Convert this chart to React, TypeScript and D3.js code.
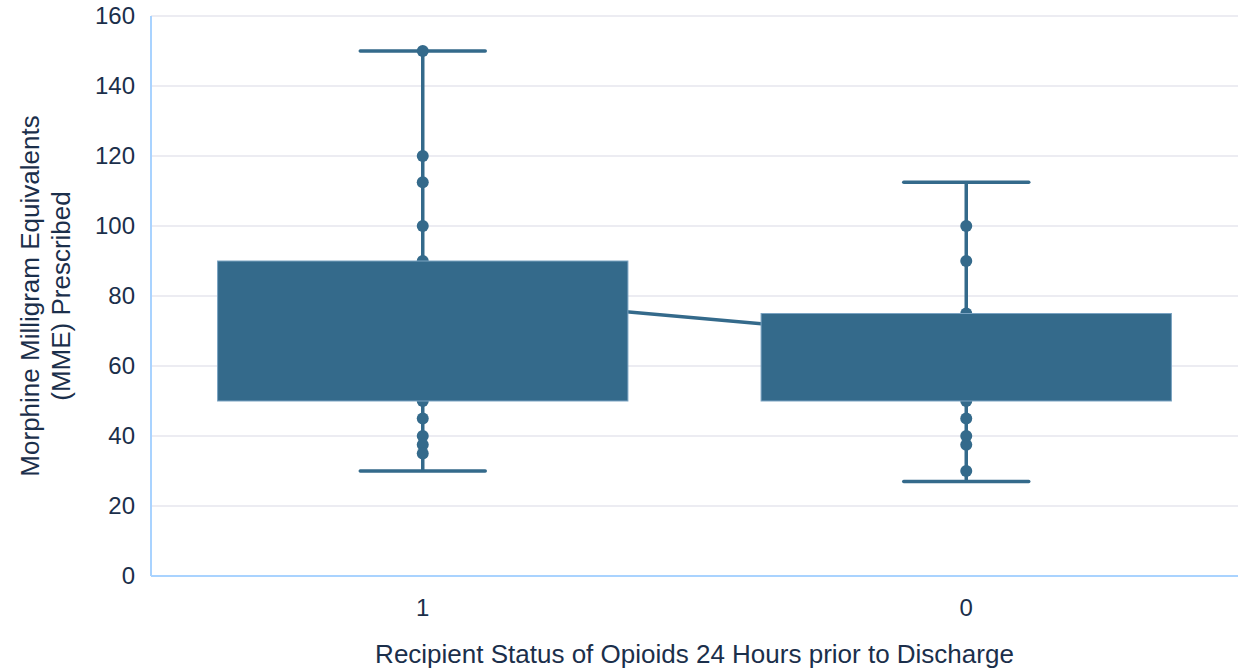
import React from "react";
import * as d3 from "d3";

const categories = ["1", "0"];
const q1 = [50, 50];
const q3 = [90, 75];
const whiskerLow = [30, 27];
const whiskerHigh = [150, 112.5];
const means = [80.7, 66.8];
const points1 = [150, 120, 112.5, 100, 90, 50, 45, 40, 37.5, 35];
const points0 = [100, 90, 75, 50, 45, 40, 37.5, 30];
const pointSets = [points1, points0];
const yTicks = [0, 20, 40, 60, 80, 100, 120, 140, 160];

const W = 1248;
const H = 671;
const left = 151;
const right = 1238;
const top = 16;
const bottom = 576;
const color = "#346a8b";
const textColor = "#1b2f4b";

export default function App() {
  const x = d3.scaleBand<string>().domain(categories).range([left, right]).padding(0);
  const y = d3.scaleLinear().domain([0, 160]).range([bottom, top]);
  const bw = x.bandwidth();
  const boxW = bw * 0.755;
  const capW = bw * 0.23;
  const cx = (c: string) => (x(c) as number) + bw / 2;
  const meanLine = d3
    .line<number>()
    .x((_, i) => cx(categories[i]))
    .y((d) => y(d));

  return (
    <svg
      width={W}
      height={H}
      style={{ position: "absolute", left: 0, top: 0, fontFamily: "Liberation Sans, Arial, sans-serif" }}
    >
      <rect width={W} height={H} fill="#fff" />
      {yTicks.map((t) => (
        <g key={t}>
          {t > 0 && (
            <line x1={left} x2={right} y1={y(t)} y2={y(t)} stroke="#e6e6ee" strokeWidth={1.5} />
          )}
          <text x={135} y={y(t)} dy="0.35em" textAnchor="end" fontSize={24} fill={textColor}>
            {t}
          </text>
        </g>
      ))}
      <line x1={left} x2={left} y1={top} y2={bottom} stroke="#a9d3ff" strokeWidth={2} />
      <line x1={left} x2={right} y1={bottom} y2={bottom} stroke="#a9d3ff" strokeWidth={2} />
      <path d={meanLine(means) || ""} fill="none" stroke={color} strokeWidth={3.5} />
      {categories.map((c, i) => {
        const xc = cx(c);
        return (
          <g key={c}>
            <line x1={xc} x2={xc} y1={y(whiskerHigh[i])} y2={y(whiskerLow[i])} stroke={color} strokeWidth={3.5} />
            <line
              x1={xc - capW / 2}
              x2={xc + capW / 2}
              y1={y(whiskerHigh[i])}
              y2={y(whiskerHigh[i])}
              stroke={color}
              strokeWidth={3.5}
              strokeLinecap="round"
            />
            <line
              x1={xc - capW / 2}
              x2={xc + capW / 2}
              y1={y(whiskerLow[i])}
              y2={y(whiskerLow[i])}
              stroke={color}
              strokeWidth={3.5}
              strokeLinecap="round"
            />
            {pointSets[i].map((p, j) => (
              <circle key={j} cx={xc} cy={y(p)} r={6} fill={color} />
            ))}
            <rect
              x={xc - boxW / 2}
              y={y(q3[i])}
              width={boxW}
              height={y(q1[i]) - y(q3[i])}
              fill={color}
              stroke="#7aa3c2"
              strokeWidth={1}
            />
          </g>
        );
      })}
      {categories.map((c) => (
        <text key={c} x={cx(c)} y={608} dy="0.35em" textAnchor="middle" fontSize={24} fill={textColor}>
          {c}
        </text>
      ))}
      <text x={(left + right) / 2} y={663} textAnchor="middle" fontSize={26} fill={textColor}>
        Recipient Status of Opioids 24 Hours prior to Discharge
      </text>
      <text
        transform={`translate(39, ${(top + bottom) / 2}) rotate(-90)`}
        textAnchor="middle"
        fontSize={26}
        fill={textColor}
      >
        <tspan x={0} dy={0}>Morphine Milligram Equivalents</tspan>
        <tspan x={0} dy={31}>(MME) Prescribed</tspan>
      </text>
    </svg>
  );
}
